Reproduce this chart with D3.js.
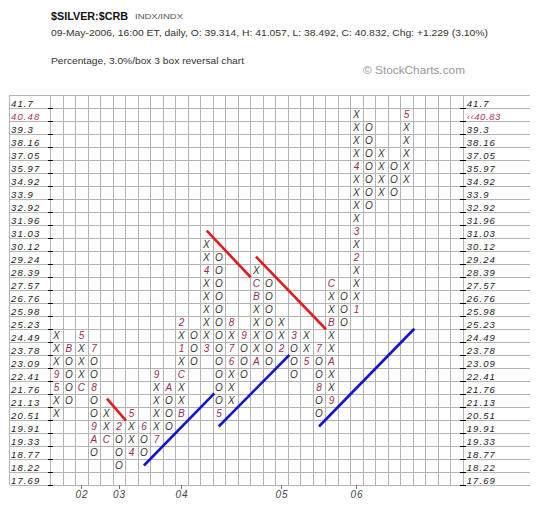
<!DOCTYPE html>
<html><head><meta charset="utf-8">
<script src="https://cdn.jsdelivr.net/npm/d3@7"></script>
<style>body{margin:0;background:#fff}</style>
</head><body><svg id="c" width="540" height="507"></svg>
<script>
// ---- data ----
const boxLevels = [41.7, 40.48, 39.3, 38.16, 37.05, 35.97, 34.92, 33.9, 32.92, 31.96, 31.03, 30.12, 29.24, 28.39, 27.57, 26.76, 25.98, 25.23, 24.49, 23.78, 23.09, 22.41, 21.76, 21.13, 20.51, 19.91, 19.33, 18.77, 18.22, 17.69];
const colTypes = ["X","O","X","O","X","O","X","O","X","O","X","O","X","O","X","O","X","O","X","O","X","O","X","O","X","O","X","O","X"];
const colHigh = [24.49, 23.78, 24.49, 23.78, 20.51, 19.91, 20.51, 19.91, 22.41, 21.76, 25.23, 24.49, 30.12, 29.24, 25.23, 24.49, 28.39, 27.57, 25.23, 24.49, 24.49, 23.78, 27.57, 26.76, 40.48, 39.3, 37.05, 35.97, 40.48];
const colLow  = [20.51, 21.13, 21.76, 18.77, 19.33, 18.22, 18.77, 18.77, 19.33, 19.91, 20.51, 23.09, 23.78, 20.51, 21.13, 22.41, 23.09, 23.09, 23.78, 22.41, 23.09, 20.51, 21.13, 25.23, 25.98, 32.92, 33.9, 33.9, 34.92];
const markCol   = [0, 0, 1, 2, 2, 3, 3, 3, 3, 4, 5, 6, 6, 7, 8, 8, 9, 10, 10, 10, 10, 12, 12, 13, 14, 14, 14, 15, 16, 16, 16, 18, 19, 20, 21, 21, 22, 22, 22, 22, 24, 24, 24, 24, 28];
const markPrice = [21.76, 22.41, 23.78, 21.76, 24.49, 23.78, 21.76, 19.91, 19.33, 19.33, 19.91, 18.77, 20.51, 19.91, 19.33, 22.41, 21.76, 20.51, 22.41, 23.78, 25.23, 23.78, 28.39, 20.51, 23.09, 23.78, 25.23, 24.49, 23.09, 26.76, 27.57, 23.78, 24.49, 23.09, 23.78, 21.76, 21.13, 23.09, 25.23, 27.57, 25.98, 29.24, 31.03, 35.97, 40.48];
const markLabel = ["5","9","B","C","5","7","8","9","A","C","2","4","5","6","7","9","A","B","C","1","2","3","4","5","6","7","8","9","A","B","C","2","3","5","7","8","9","A","B","C","1","2","3","4","5"];
const yearCols = [2, 5, 10, 18, 24];
const yearLabels = ["02", "03", "04", "05", "06"];
// trend lines: [startCol, startBox, endCol, endBox] in column / box units
const redLines  = [[4.5, 23.35, 6.02, 25.05], [12.48, 10.44, 16.0, 14.02], [16.42, 12.44, 22.02, 18.02]];
const blueLines = [[7.46, 28.5, 13.09, 22.95], [13.44, 25.5, 19.09, 20.0], [21.46, 25.5, 29.09, 17.98]];
const lastPrice = 40.83;
const lastBox = 40.48;

// ---- layout ----
const nCols = 33;
const L = 50.7, R = 463.2, T = 95, B = 485;
const svg = d3.select("#c");
const x = d3.scaleBand().domain(d3.range(nCols)).range([L, R]);
const y = d3.scaleBand().domain(boxLevels).range([T, B]);
const xl = d3.scaleLinear().domain([0, nCols]).range([L, R]);
const yl = d3.scaleLinear().domain([0, boxLevels.length]).range([T, B]);

const font = "'Liberation Sans', Arial, sans-serif";

// header
svg.append("text").attr("x", 51).attr("y", 20).attr("font-family", font).attr("font-weight", "bold")
  .attr("font-size", 11.5).attr("fill", "#111").attr("textLength", 77).attr("lengthAdjust", "spacingAndGlyphs").text("$SILVER:$CRB");
svg.append("text").attr("x", 135).attr("y", 19).attr("font-family", font)
  .attr("font-size", 7.5).attr("fill", "#555").attr("textLength", 48).attr("lengthAdjust", "spacingAndGlyphs").text("INDX/INDX");
svg.append("text").attr("x", 51).attr("y", 35.5).attr("font-family", font)
  .attr("font-size", 9).attr("fill", "#333").attr("textLength", 437).attr("lengthAdjust", "spacingAndGlyphs")
  .text("09-May-2006, 16:00 ET, daily, O: 39.314, H: 41.057, L: 38.492, C: 40.832, Chg: +1.229 (3.10%)");
svg.append("text").attr("x", 51).attr("y", 64).attr("font-family", font)
  .attr("font-size", 8.5).attr("fill", "#333").attr("textLength", 193).attr("lengthAdjust", "spacingAndGlyphs")
  .text("Percentage, 3.0%/box 3 box reversal chart");
svg.append("text").attr("x", 363).attr("y", 74).attr("font-family", font)
  .attr("font-size", 11).attr("fill", "#999").attr("textLength", 102).attr("lengthAdjust", "spacingAndGlyphs")
  .text("\u00A9 StockCharts.com");

// grid
const grid = svg.append("g").attr("stroke", "#b4b4b4").attr("stroke-width", 1).attr("shape-rendering", "crispEdges");
grid.selectAll("line.h").data(d3.range(boxLevels.length + 1)).join("line").attr("class", "h")
  .attr("x1", 9.5).attr("x2", 530).attr("y1", d => yl(d)).attr("y2", d => yl(d));
grid.selectAll("line.v").data(d3.range(nCols + 1)).join("line").attr("class", "v")
  .attr("x1", d => xl(d)).attr("x2", d => xl(d)).attr("y1", T).attr("y2", B);
grid.append("line").attr("x1", 9.5).attr("x2", 9.5).attr("y1", T).attr("y2", B);

// frame ticks
const ticks = svg.append("g").attr("stroke", "#000").attr("stroke-width", 1).attr("shape-rendering", "crispEdges");
ticks.selectAll("line.l").data(d3.range(1, boxLevels.length + 1)).join("line").attr("class", "l")
  .attr("x1", L - 3).attr("x2", L + 2.5).attr("y1", d => yl(d)).attr("y2", d => yl(d));
ticks.selectAll("line.r").data(d3.range(1, boxLevels.length + 1)).join("line").attr("class", "r")
  .attr("x1", R - 3).attr("x2", R + 2.5).attr("y1", d => yl(d)).attr("y2", d => yl(d));

// y axes (labels)
function styleAxis(g) {
  g.select(".domain").remove();
  g.selectAll("line").remove();
  g.selectAll("text").attr("font-family", font).attr("font-style", "italic").attr("font-size", 9.5)
    .attr("letter-spacing", 1.1).attr("fill", "#222").attr("dy", "0.62em");
}
const leftAx = svg.append("g").attr("transform", "translate(9.5,0)")
  .call(d3.axisRight(y).tickSize(0).tickPadding(1.5)).call(styleAxis);
leftAx.selectAll("text").filter(d => d === lastBox).attr("fill", "#b0305a");
const rightAx = svg.append("g").attr("transform", `translate(${R + 2},0)`)
  .call(d3.axisRight(y).tickSize(0).tickPadding(1.5)
    .tickFormat(d => d === lastBox ? "\u2039\u2039" + lastPrice : d)).call(styleAxis);
rightAx.selectAll("text").filter(d => d === lastBox).attr("fill", "#b0305a").attr("letter-spacing", 0.6);

// x axis
const xAx = svg.append("g").attr("transform", `translate(0,${B})`)
  .call(d3.axisBottom(x).tickValues(yearCols).tickSize(4).tickPadding(2)
    .tickFormat(d => yearLabels[yearCols.indexOf(d)]));
xAx.select(".domain").remove();
xAx.selectAll("line").attr("stroke", "#777").attr("shape-rendering", "crispEdges");
xAx.selectAll("text").attr("font-family", font).attr("font-style", "italic").attr("font-size", 10)
  .attr("letter-spacing", 1).attr("fill", "#444");

// boxes
const cells = [];
const markMap = new Map();
markCol.forEach((c, i) => markMap.set(c + "|" + markPrice[i], markLabel[i]));
colTypes.forEach((t, c) => {
  boxLevels.forEach(p => {
    if (p <= colHigh[c] + 1e-9 && p >= colLow[c] - 1e-9) {
      const k = c + "|" + p;
      cells.push({ c, p, t: markMap.has(k) ? markMap.get(k) : t, mark: markMap.has(k) });
    }
  });
});
svg.append("g").selectAll("text").data(cells).join("text")
  .attr("x", d => x(d.c) + x.bandwidth() / 2 - 0.5)
  .attr("y", d => y(d.p) + y.bandwidth() / 2)
  .attr("dy", "0.36em").attr("text-anchor", "middle")
  .attr("font-family", font).attr("font-style", "italic").attr("font-size", 10)
  .attr("fill", d => d.mark ? "#a0285a" : "#333")
  .text(d => d.t);

// trend lines
const tl = svg.append("g").attr("stroke-width", 2.6).attr("stroke-linecap", "butt");
tl.selectAll("line.red").data(redLines).join("line").attr("class", "red").attr("stroke", "#e31b1b")
  .attr("x1", d => xl(d[0])).attr("y1", d => yl(d[1])).attr("x2", d => xl(d[2])).attr("y2", d => yl(d[3]));
tl.selectAll("line.blue").data(blueLines).join("line").attr("class", "blue").attr("stroke", "#1414d2")
  .attr("x1", d => xl(d[0])).attr("y1", d => yl(d[1])).attr("x2", d => xl(d[2])).attr("y2", d => yl(d[3]));
</script></body></html>
